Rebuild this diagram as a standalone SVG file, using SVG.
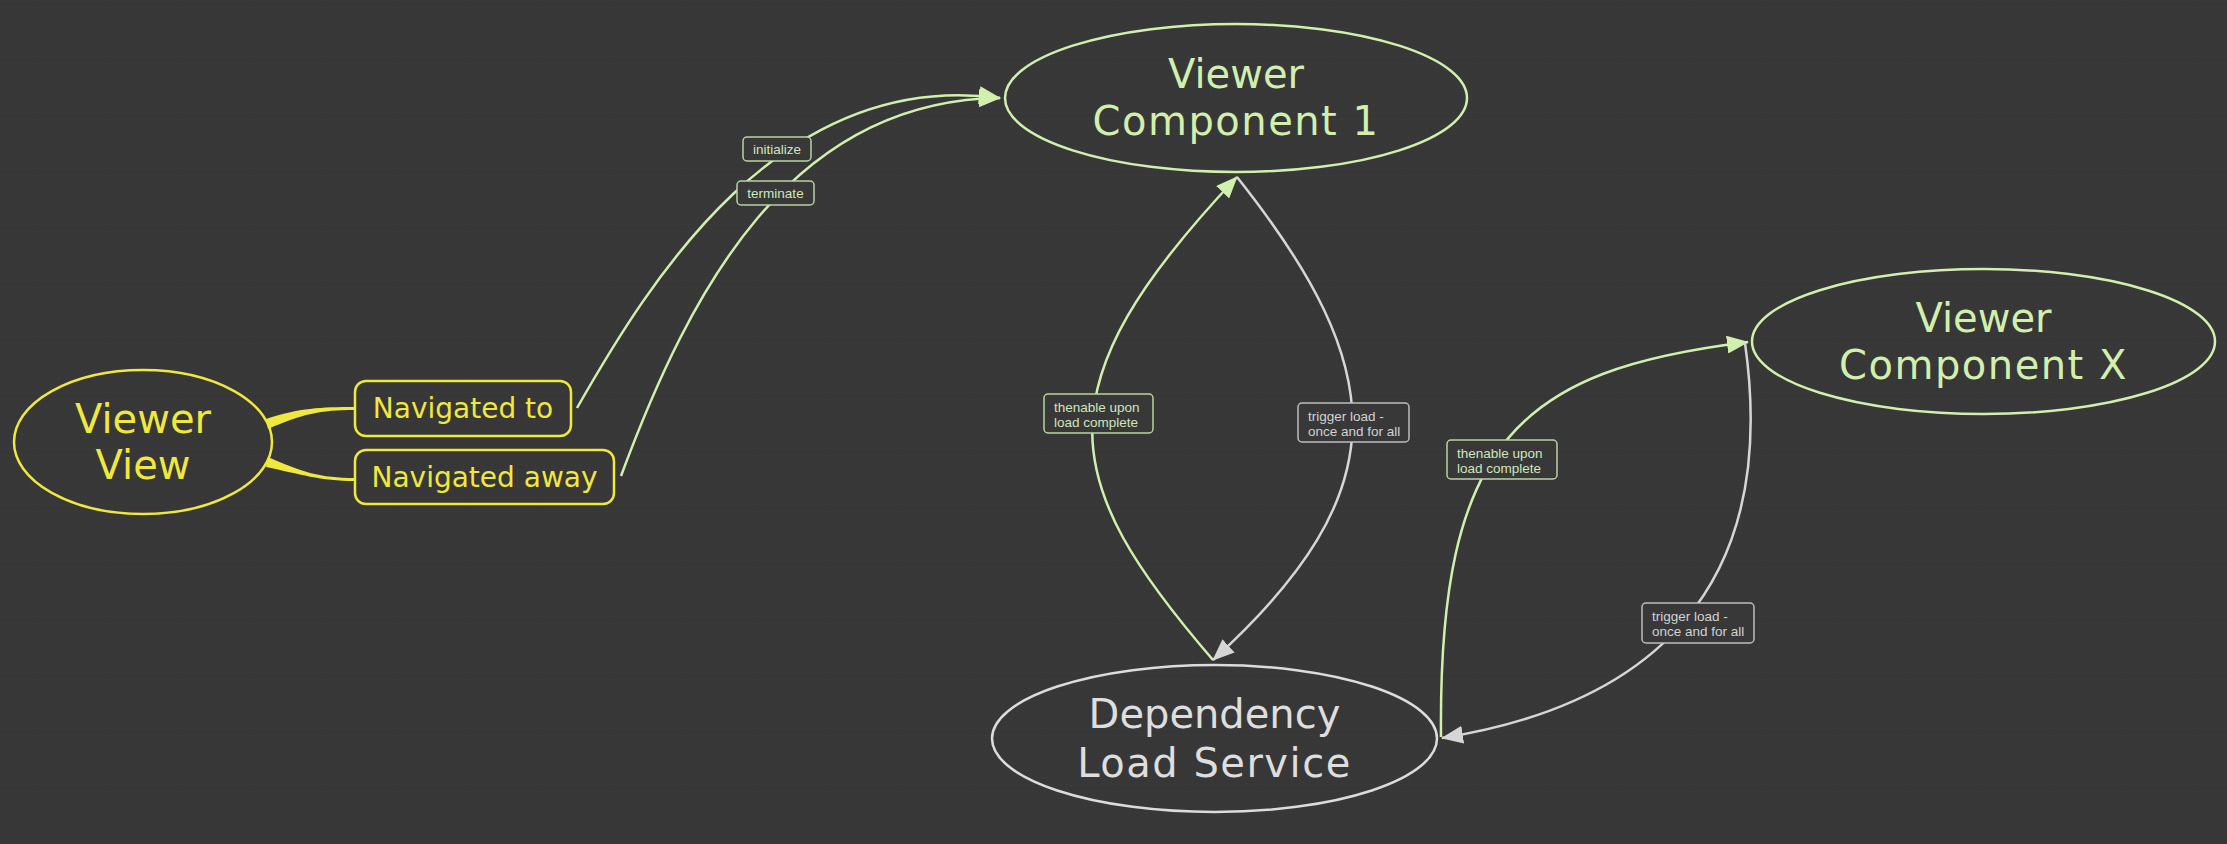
<svg xmlns="http://www.w3.org/2000/svg" width="2227" height="844" viewBox="0 0 2227 844">
<defs>
<style>
.bg{fill:#373737}
.ellY{fill:none;stroke:#f0e83c;stroke-width:2.5}
.ellG{fill:none;stroke:#d2f0ad;stroke-width:2.5}
.ellW{fill:none;stroke:#dcdcdc;stroke-width:2.5}
.box{fill:none;stroke:#f0e83c;stroke-width:2.5}
.big{font-family:"DejaVu Sans",sans-serif;font-size:40px;text-anchor:middle}
.mid{font-family:"DejaVu Sans",sans-serif;font-size:28px;text-anchor:middle;fill:#f0e83c}
.tY{fill:#f0e83c}
.tG{fill:#d2f0ad}
.tW{fill:#dedede}
.lnG{fill:none;stroke:#d2f0ad;stroke-width:2.5}
.lnW{fill:none;stroke:#d6d6d6;stroke-width:2.5}
.lblG{fill:#383838;stroke:#b9d2a2;stroke-width:1.5}
.lblW{fill:#383838;stroke:#bdbdbd;stroke-width:1.5}
.lt{font-family:"Liberation Sans",Arial,sans-serif;font-size:13.5px}
.ltG{fill:#cfe6bb}
.ltW{fill:#d2d2d2}
</style>
<marker id="arrG" viewBox="0 0 22 18" refX="21" refY="9" markerWidth="22" markerHeight="18" markerUnits="userSpaceOnUse" orient="auto">
<path d="M0 0 L22 9 L0 18 Z" fill="#d2f0ad"/>
</marker>
<marker id="arrW" viewBox="0 0 22 18" refX="21" refY="9" markerWidth="22" markerHeight="18" markerUnits="userSpaceOnUse" orient="auto">
<path d="M0 0 L22 9 L0 18 Z" fill="#d6d6d6"/>
</marker>
<pattern id="tex" width="9" height="7" patternUnits="userSpaceOnUse">
<rect width="9" height="7" fill="#373737"/>
<path d="M0 0.5 H9 M4.5 0 V7" stroke="#3c3c3c" stroke-width="1"/>
</pattern>
</defs>
<rect class="bg" x="0" y="0" width="2227" height="844"/>
<rect x="0" y="0" width="2227" height="844" fill="url(#tex)" opacity="0.35"/>

<g id="connectors">
<path d="M266 419 C300 408 320 407 355 407 L355 410 C320 410 302 414 268 429 Z" fill="#f0e83c"/>
<path d="M268 457 C302 472 320 478 355 478 L355 481 C320 481 300 474 266 467 Z" fill="#f0e83c"/>
<path class="lnG" d="M577 408 C650 280 780 68 1000 98" marker-end="url(#arrG)"/>
<path class="lnG" d="M621 476 C690 290 790 100 1000 98" marker-end="url(#arrG)"/>
<path class="lnG" d="M1213 660 C1058 480 1038 388 1237 177" marker-end="url(#arrG)"/>
<path class="lnW" d="M1237 177 C1390 370 1400 490 1213 660" marker-end="url(#arrW)"/>
<path class="lnG" d="M1441 737 C1438 440 1520 370 1748 342" marker-end="url(#arrG)"/>
<path class="lnW" d="M1745 343 C1780 590 1650 705 1442 738" marker-end="url(#arrW)"/>

<g id="lbl-initialize">
<rect class="lblG" x="743" y="137" width="68" height="24" rx="4"/>
<text class="lt ltG" x="777" y="154" text-anchor="middle">initialize</text>
</g>
<g id="lbl-terminate">
<rect class="lblG" x="737" y="181" width="77" height="24" rx="4"/>
<text class="lt ltG" x="775.5" y="198" text-anchor="middle">terminate</text>
</g>
<g id="lbl-thenable-1">
<rect class="lblG" x="1044" y="394" width="109" height="39" rx="4"/>
<text class="lt ltG" x="1054" y="412">thenable upon</text>
<text class="lt ltG" x="1054" y="427">load complete</text>
</g>
<g id="lbl-trigger-1">
<rect class="lblW" x="1298" y="403" width="111" height="39" rx="4"/>
<text class="lt ltW" x="1308" y="421">trigger load -</text>
<text class="lt ltW" x="1308" y="436">once and for all</text>
</g>
<g id="lbl-thenable-x">
<rect class="lblG" x="1447" y="440" width="110" height="39" rx="4"/>
<text class="lt ltG" x="1457" y="458">thenable upon</text>
<text class="lt ltG" x="1457" y="473">load complete</text>
</g>
<g id="lbl-trigger-x">
<rect class="lblW" x="1642" y="603" width="112" height="40" rx="4"/>
<text class="lt ltW" x="1652" y="621">trigger load -</text>
<text class="lt ltW" x="1652" y="636">once and for all</text>
</g>
</g>

<g id="viewer-view">
<ellipse class="ellY" cx="143" cy="442" rx="129" ry="72"/>
<text class="big tY" x="143" y="433">Viewer</text>
<text class="big tY" x="143" y="479">View</text>
</g>

<g id="navigated-to">
<rect class="box" x="355" y="381" width="216" height="55" rx="11"/>
<text class="mid" x="463" y="418">Navigated to</text>
</g>

<g id="navigated-away">
<rect class="box" x="355" y="450" width="259" height="54" rx="11"/>
<text class="mid" x="484.5" y="487">Navigated away</text>
</g>

<g id="viewer-component-1">
<ellipse class="ellG" cx="1236" cy="98" rx="231" ry="74"/>
<text class="big tG" x="1236" y="88">Viewer</text>
<text class="big tG" x="1236" y="135" letter-spacing="1.5">Component 1</text>
</g>

<g id="viewer-component-x">
<ellipse class="ellG" cx="1983.5" cy="341.5" rx="231.5" ry="72.5"/>
<text class="big tG" x="1983.5" y="332">Viewer</text>
<text class="big tG" x="1983.5" y="379" letter-spacing="1.5">Component X</text>
</g>

<g id="dependency-load-service">
<ellipse class="ellW" cx="1214.5" cy="738.5" rx="222.5" ry="73.5"/>
<text class="big tW" x="1214.5" y="728">Dependency</text>
<text class="big tW" x="1214.5" y="777" letter-spacing="1.5">Load Service</text>
</g>
</svg>
